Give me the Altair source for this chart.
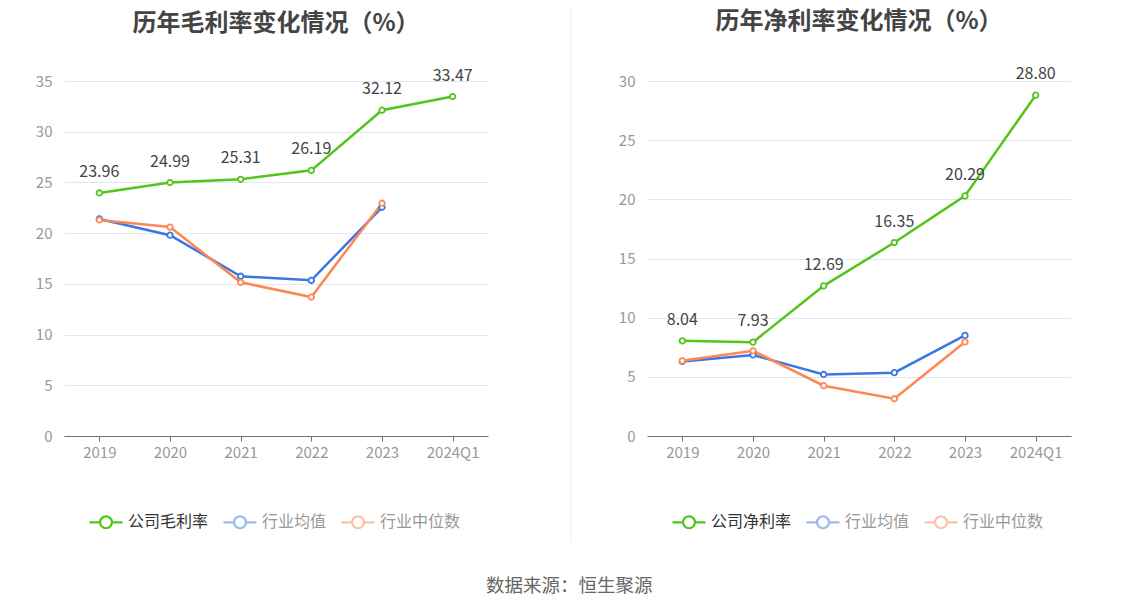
import altair as alt
import pandas as pd

years = ['2019', '2020', '2021', '2022', '2023', '2024Q1']

gross_company = [23.96, 24.99, 25.31, 26.19, 32.12, 33.47]
gross_avg = [21.4, 19.8, 15.75, 15.35, 22.55, None]
gross_median = [21.3, 20.6, 15.15, 13.7, 22.95, None]

net_company = [8.04, 7.93, 12.69, 16.35, 20.29, 28.80]
net_avg = [6.3, 6.85, 5.2, 5.35, 8.5, None]
net_median = [6.35, 7.2, 4.25, 3.15, 7.95, None]

GREEN = '#52c41a'
BLUE = '#3a77e3'
ORANGE = '#fe8653'
FONT = 'Noto Sans CJK SC'

SYMBOL = ('M-1,0L-0.36,0M0.36,0L1,0'
          'M-0.36,0A0.36,0.36 0 1,1 0.36,0A0.36,0.36 0 1,1 -0.36,0Z')


def build_df(company_name, company, avg, median):
    rows = []
    for name, vals in [(company_name, company), ('行业均值', avg), ('行业中位数', median)]:
        for y, v in zip(years, vals):
            if v is None:
                continue
            rows.append({'year': y, 'series': name, 'value': v, 'label': f'{v:.2f}'})
    return pd.DataFrame(rows)


def make_panel(title, company_name, company, avg, median, ymax):
    df = build_df(company_name, company, avg, median)
    domain = [company_name, '行业均值', '行业中位数']
    color = alt.Color(
        'series:N',
        scale=alt.Scale(domain=domain, range=[GREEN, BLUE, ORANGE]),
        sort=domain,
        legend=alt.Legend(
            title=None, orient='none', direction='horizontal',
            legendX=24, legendY=423,
            symbolType=SYMBOL, symbolSize=1089, symbolStrokeWidth=2.2,
            symbolFillColor='white',
            symbolOpacity=alt.ExprRef(expr=f"datum.value == '{company_name}' ? 1 : 0.5"),
            labelColor=alt.ExprRef(expr=f"datum.value == '{company_name}' ? '#333333' : '#999999'"),
            labelFontSize=16, labelFont=FONT, labelOffset=4, columnPadding=10,
        ),
    )
    x = alt.X('year:N', sort=years, title=None,
              scale=alt.Scale(type='point', padding=0.5),
              axis=alt.Axis(labelAngle=0, labelColor='#999999', labelFontSize=15,
                            labelFont=FONT, domainColor='#6e7079', tickColor='#6e7079',
                            tickSize=5, labelPadding=4, grid=False))
    y = alt.Y('value:Q', title=None,
              scale=alt.Scale(domain=[0, ymax], nice=False),
              axis=alt.Axis(values=list(range(0, ymax + 1, 5)), labelColor='#999999',
                            labelFontSize=15, labelFont=FONT, ticks=False, domain=False,
                            labelPadding=12, gridColor='#e3e7f0'))
    base = alt.Chart(df).encode(x=x, y=y, color=color)
    lines = base.mark_line(strokeWidth=2.5)
    points = base.mark_point(filled=False, fill='white', fillOpacity=1, size=30,
                             strokeWidth=1.8, opacity=1)
    labels = alt.Chart(df[df['series'] == company_name]).mark_text(
        dy=-21, fontSize=16, color='#444444', font=FONT
    ).encode(x=x, y=y, text='label:N')
    return alt.layer(lines, points, labels).properties(
        width=424, height=355,
        title=alt.Title(title, fontSize=24, fontWeight='bold', color='#444444',
                        offset=29, dy=-3, frame='group', anchor='middle', font=FONT),
    )


left = make_panel('历年毛利率变化情况（%）', '公司毛利率', gross_company, gross_avg, gross_median, 35)
right = make_panel('历年净利率变化情况（%）', '公司净利率', net_company, net_avg, net_median, 30)

divider = alt.Chart(pd.DataFrame({'a': [0]})).mark_rule(color='#eeeeee', strokeWidth=1).encode(
    x=alt.value(37), y=alt.value(-72), y2=alt.value(460)
).properties(width=37, height=355)

chart = alt.hconcat(left, divider, right, spacing=46).resolve_scale(color='independent').resolve_legend(
    color='independent'
).properties(
    title=alt.Title('数据来源：恒生聚源', orient='bottom', anchor='middle', fontSize=18.5,
                    fontWeight='normal', color='#666666', font=FONT, offset=35, dx=16),
    padding={'left': 27, 'top': 0, 'right': 5, 'bottom': 5},
).configure(font=FONT).configure_view(strokeWidth=0, stroke='transparent')

chart.save('out.html', embed_options={'renderer': 'svg', 'actions': False})
